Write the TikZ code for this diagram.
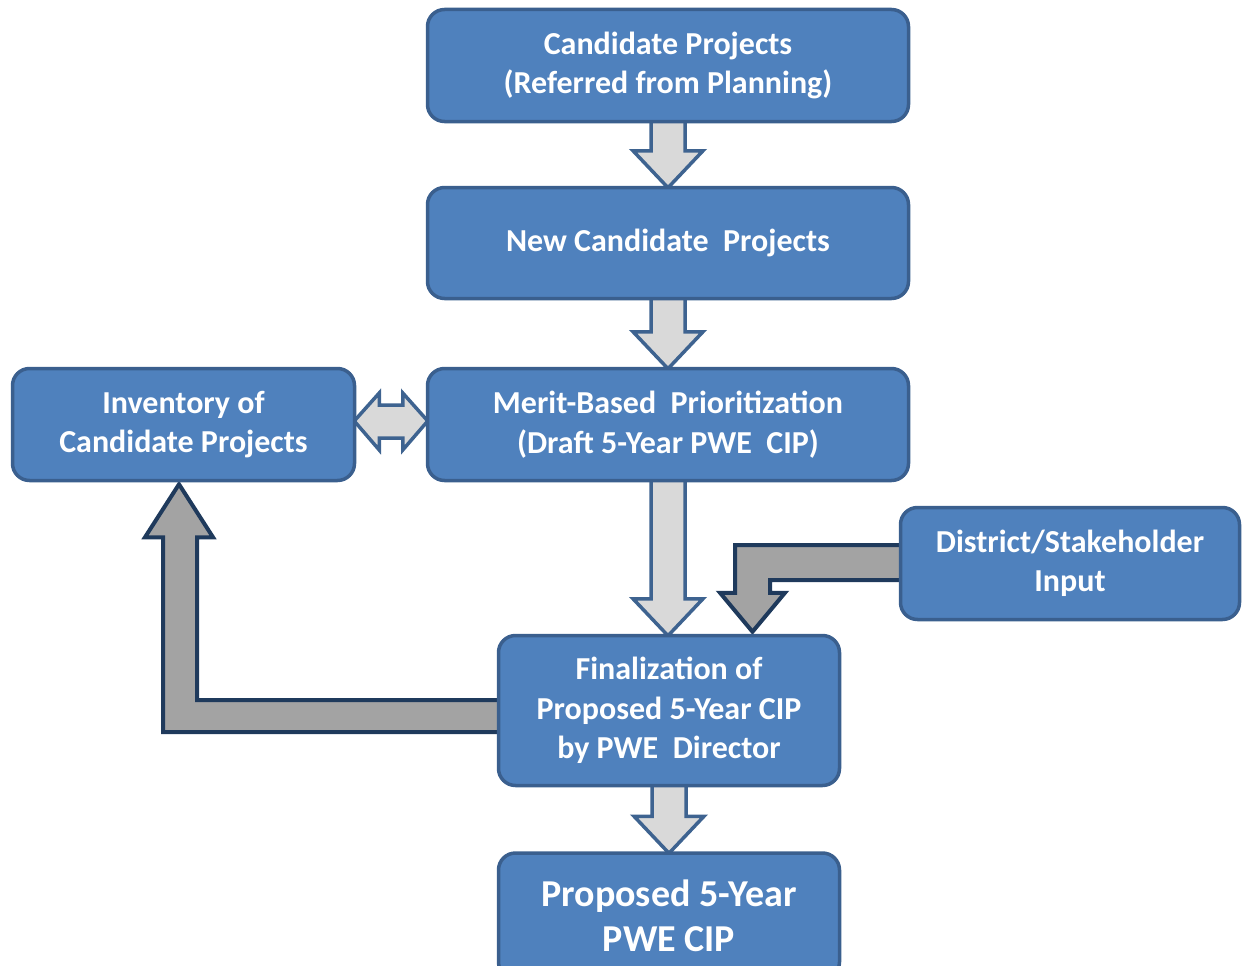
\documentclass[tikz,border=0pt]{standalone}
\usepackage{fontspec}
\setmainfont{Carlito}
\usetikzlibrary{calc,backgrounds}
\definecolor{boxfill}{HTML}{4F81BD}
\definecolor{boxline}{HTML}{3A5F8E}
\definecolor{lightfill}{HTML}{D9D9D9}
\definecolor{lightline}{HTML}{3E6390}
\definecolor{grayfill}{HTML}{A3A3A3}
\definecolor{grayline}{HTML}{1F3A5C}

\begin{document}
\begin{tikzpicture}[x=1pt,y=1pt,
  stepbox/.style={draw=boxline, fill=boxfill, line width=3.5pt, rounded corners=17pt,
    text=white, font=\fontsize{32}{39.5}\selectfont\bfseries, align=center, inner sep=0pt},
  bigtext/.style={font=\fontsize{38}{45}\selectfont\bfseries},
  lightarrow/.style={draw=lightline, fill=lightfill, line width=3.5pt, line join=miter},
  grayarrow/.style={draw=grayline, fill=grayfill, line width=4pt, line join=miter}]

\useasboundingbox (0,0) rectangle (1243,-966);
\clip (0,0) rectangle (1243,-966);

% process boxes
\node[stepbox, minimum width=481, minimum height=112] (cand) at (668,-65.5)
  {Candidate Projects\\(Referred from Planning)};
\node[stepbox, minimum width=481, minimum height=111] (new) at (668,-243)
  {New Candidate\ \ Projects};
\node[stepbox, minimum width=481, minimum height=112] (merit) at (668,-424.5)
  {Merit-Based\ \ Prioritization\\(Draft 5-Year PWE\ \ CIP)};
\node[stepbox, minimum width=342, minimum height=112] (inv) at (183.5,-424.5)
  {Inventory of\\Candidate Projects};
\node[stepbox, minimum width=339, minimum height=112] (dist) at (1070,-563.5)
  {District/Stakeholder\\Input};
\node[stepbox, minimum width=341, minimum height=150] (fin) at (669,-710.5)
  {Finalization of\\Proposed 5-Year CIP\\by PWE\ \ Director};
\node[stepbox, bigtext, minimum width=341, minimum height=126] (prop) at (669,-916)
  {Proposed 5-Year\\PWE CIP};

\begin{scope}[on background layer]
  % straight block arrows down the main column
  \foreach \a/\b in {cand/new, new/merit, merit/fin, fin/prop}{
    \draw[lightarrow] let \p1=(\a.south), \p2=(\b.north) in
      (\x1-17,\y1+5) -- (\x1-17,\y2+35) -- (\x1-35,\y2+35) -- (\x1,\y2-2)
      -- (\x1+35,\y2+35) -- (\x1+17,\y2+35) -- (\x1+17,\y1+5) -- cycle;
  }
  % two-way arrow between inventory and prioritization
  \draw[lightarrow] let \p1=(inv.east), \p2=(merit.west) in
    (\x1-2,\y1+3.5) -- (\x1+23,\y1+31.5) -- (\x1+23,\y1+19.5) -- (\x2-23,\y1+19.5)
    -- (\x2-23,\y1+31.5) -- (\x2+2,\y1+3.5) -- (\x2-23,\y1-25.5) -- (\x2-23,\y1-13.5)
    -- (\x1+23,\y1-13.5) -- (\x1+23,\y1-25.5) -- cycle;
  % stakeholder input feeding into finalization
  \draw[grayarrow] let \p1=(dist.west), \p2=(fin.north) in
    (\x1+8,\y1+18.5) -- (\x2+66,\y1+18.5) -- (\x2+66,\y2+41) -- (\x2+51,\y2+41)
    -- (\x2+83.5,\y2+2) -- (\x2+116,\y2+41) -- (\x2+101,\y2+41) -- (\x2+101,\y1-16.5)
    -- (\x1+8,\y1-16.5) -- cycle;
  % feedback from finalization to the inventory
  \draw[grayarrow] let \p1=(fin.west), \p2=(inv.south) in
    (\x1+8,\y1+10.5) -- (\x2+13.5,\y1+10.5) -- (\x2+13.5,\y2-55) -- (\x2+29.5,\y2-55)
    -- (\x2-4.5,\y2-2) -- (\x2-38.5,\y2-55) -- (\x2-20.5,\y2-55) -- (\x2-20.5,\y1-21.5)
    -- (\x1+8,\y1-21.5) -- cycle;
\end{scope}
\end{tikzpicture}
\end{document}
